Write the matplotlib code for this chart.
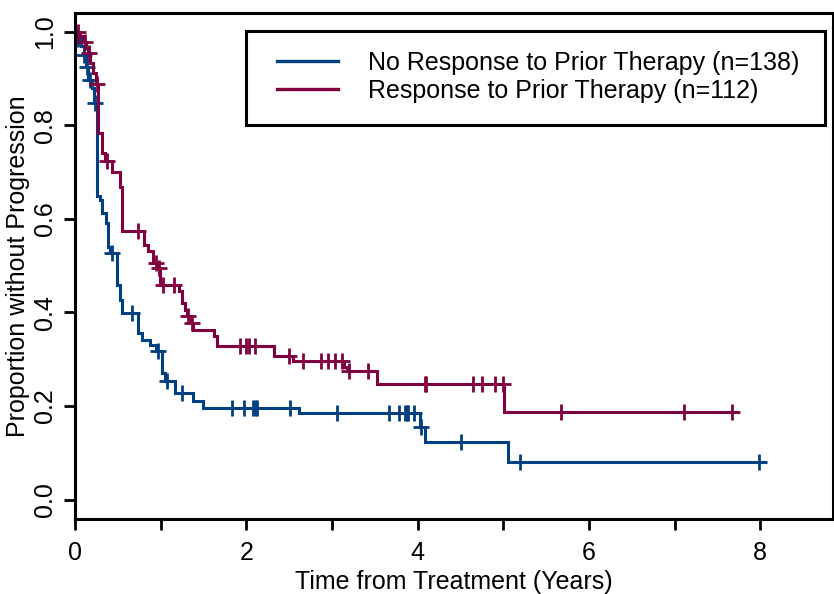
import numpy as np
import matplotlib
matplotlib.use("Agg")
import matplotlib.pyplot as plt
from matplotlib.patches import Rectangle

plt.rcParams['font.family'] = ['Liberation Sans', 'DejaVu Sans']

# ---- data ----
no_resp_label = "No Response to Prior Therapy (n=138)"
no_resp_times = [0.00, 0.03, 0.07, 0.10, 0.13, 0.15, 0.20, 0.22, 0.26, 0.29, 0.31, 0.36,
                 0.39, 0.41, 0.49, 0.525, 0.545, 0.74, 0.78, 0.87, 0.95, 1.01, 1.05, 1.17,
                 1.38, 1.49, 2.61, 4.03, 4.08, 5.05]
no_resp_surv = [1.000, 0.985, 0.970, 0.951, 0.925, 0.897, 0.880, 0.848, 0.648, 0.640, 0.613, 0.591,
                0.540, 0.527, 0.459, 0.427, 0.399, 0.356, 0.342, 0.331, 0.318, 0.271, 0.253, 0.228,
                0.210, 0.196, 0.186, 0.156, 0.122, 0.081]
no_resp_end = 8.06
no_resp_censor = [0.04, 0.10, 0.14, 0.175, 0.23, 0.43, 0.66, 0.97, 1.07, 1.25, 1.83, 1.97,
                  2.08, 2.10, 2.12, 2.51, 3.06, 3.67, 3.78, 3.85, 3.87, 3.89, 3.96, 4.04,
                  4.51, 5.19, 7.99]

resp_label = "Response to Prior Therapy (n=112)"
resp_times = [0.00, 0.06, 0.09, 0.13, 0.15, 0.175, 0.21, 0.245, 0.27, 0.31, 0.35, 0.43,
              0.52, 0.545, 0.55, 0.80, 0.855, 0.915, 0.97, 0.99, 1.21, 1.25, 1.285, 1.31,
              1.35, 1.38, 1.62, 1.655, 2.32, 2.55, 3.14, 3.17, 3.53, 5.01]
resp_surv = [1.000, 0.990, 0.979, 0.968, 0.954, 0.933, 0.912, 0.889, 0.784, 0.741, 0.723, 0.700,
             0.669, 0.591, 0.573, 0.545, 0.531, 0.506, 0.494, 0.459, 0.445, 0.420, 0.406, 0.392,
             0.378, 0.363, 0.349, 0.328, 0.306, 0.296, 0.284, 0.274, 0.248, 0.188]
resp_end = 7.73
resp_censor = [0.04, 0.12, 0.16, 0.26, 0.37, 0.74, 0.94, 0.98, 1.03, 1.15, 1.32, 1.36,
               1.93, 1.99, 2.03, 2.10, 2.50, 2.66, 2.87, 2.95, 3.04, 3.12, 3.20, 3.42,
               4.08, 4.10, 4.65, 4.75, 4.90, 5.00, 5.67, 7.11, 7.67]

x_ticks = [0, 1, 2, 3, 4, 5, 6, 7, 8]
x_tick_labels = ["0", "", "2", "", "4", "", "6", "", "8"]
y_ticks = [0.0, 0.2, 0.4, 0.6, 0.8, 1.0]
y_tick_labels = ["0.0", "0.2", "0.4", "0.6", "0.8", "1.0"]

BLUE = "#004080"
RED = "#800040"

fig = plt.figure(figsize=(8.34, 5.94), dpi=100)
ax = fig.add_axes([0.09, 0.126, 0.909, 0.852])


def km(ax, times, surv, end, censor, color, label):
    t = np.array(times + [end])
    s = np.array(surv + [surv[-1]])
    ax.step(t, s, where='post', color=color, lw=2.2, label=label, solid_joinstyle='miter')
    idx = np.searchsorted(np.array(times), np.array(censor), side='right') - 1
    cs = np.array(surv)[idx]
    ax.plot(censor, cs, ls='none', marker='+', ms=12, mew=2.0, color=color)


km(ax, no_resp_times, no_resp_surv, no_resp_end, no_resp_censor, BLUE, no_resp_label)
km(ax, resp_times, resp_surv, resp_end, resp_censor, RED, resp_label)

ax.set_xlim(0, 8.85)
ax.set_ylim(-0.042, 1.04)
ax.set_xticks(x_ticks)
ax.set_xticklabels(x_tick_labels)
ax.set_yticks(y_ticks)
ax.set_yticklabels(y_tick_labels, rotation=90, va='center')

for sp in ax.spines.values():
    sp.set_linewidth(2.2)
    sp.set_color('black')

ax.tick_params(axis='both', direction='out', length=8, width=2.0, labelsize=18)
ax.tick_params(axis='x', pad=8)
ax.tick_params(axis='y', pad=5)
ax.set_xlabel("Time from Treatment (Years)", fontsize=18, labelpad=3)
ax.set_ylabel("Proportion without Progression", fontsize=18, labelpad=2)

# legend box frame
ax.add_patch(Rectangle((0.2256, 0.779), 0.7638, 0.186, transform=ax.transAxes,
                       fill=True, facecolor='white', edgecolor='black', lw=2.2,
                       zorder=4, clip_on=False))
leg = ax.legend(loc='upper left', bbox_to_anchor=(0.2665, 0.925),
                fontsize=18, frameon=False, handlelength=2.44, handletextpad=1.2,
                borderpad=0.0, labelspacing=0.16, borderaxespad=0)
leg.set_zorder(5)
for line in leg.get_lines():
    line.set_linewidth(2.4)

fig.savefig("out.png", dpi=100)
